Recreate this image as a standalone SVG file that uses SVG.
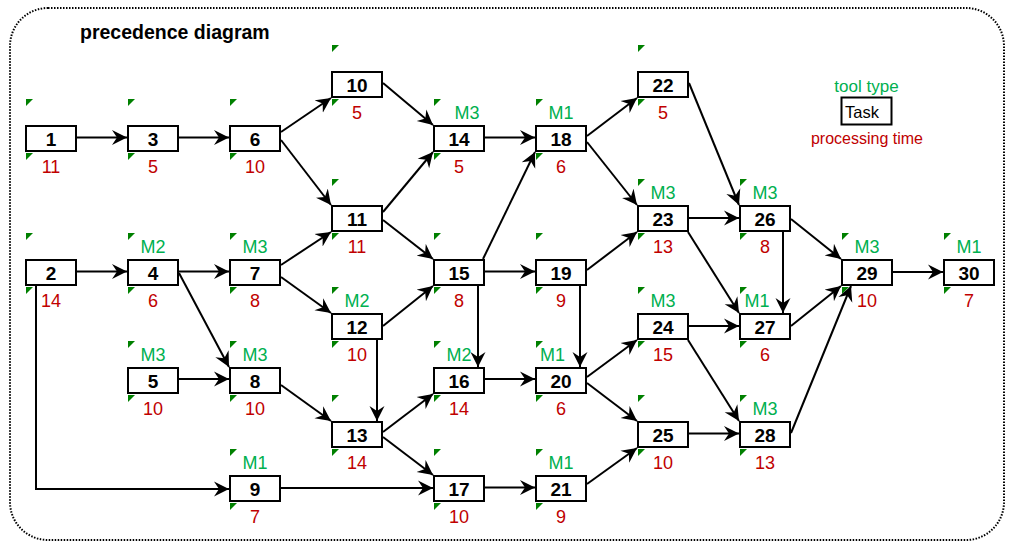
<svg xmlns="http://www.w3.org/2000/svg" width="1015" height="550" viewBox="0 0 1015 550">
  <style>
    text { font-family: "Liberation Sans", Arial, sans-serif; }
    .frame { fill: #fff; stroke: #000; stroke-width: 2; stroke-dasharray: 1.5 1.5; }
    .title { font-size: 19.5px; font-weight: bold; fill: #000; }
    .box { fill: #fff; stroke: #000; stroke-width: 2; }
    .tri { fill: #008000; }
    .num { font-size: 19px; font-weight: bold; fill: #000; text-anchor: middle; }
    .tool { font-size: 18px; fill: #00B050; text-anchor: middle; }
    .time { font-size: 18px; fill: #C00000; text-anchor: middle; }
    .edge { fill: none; stroke: #000; stroke-width: 2; marker-end: url(#arr); }
  </style>
  <defs>
    <marker id="arr" markerUnits="userSpaceOnUse" viewBox="0 0 16 16" markerWidth="16" markerHeight="16" refX="15" refY="8" orient="auto">
      <path d="M0,0.5 L15,8 L0,15.5 L5,8 Z" fill="#000"/>
    </marker>
  </defs>

  <rect class="frame" x="10" y="8" width="994" height="532" rx="38" ry="38"/>
  <text class="title" x="80" y="39">precedence diagram</text>

  <!-- legend -->
  <g id="legend">
    <text class="tool" x="866.5" y="92" style="font-size:17px">tool type</text>
    <rect class="box" x="841.5" y="97.5" width="50" height="27"/>
    <text x="845" y="118" style="font-size:16.5px" fill="#000">Task</text>
    <text class="time" x="867" y="144" style="font-size:16px">processing time</text>
  </g>

  <!-- tasks: box outer extent L..L+52, T..T+27 -->
  <g id="n1"><polygon class="tri" points="26,99 33,99 26,106"/><polygon class="tri" points="26,153 33,153 26,160"/><rect class="box" x="26" y="126" width="50" height="25"/><text class="num" x="51" y="146">1</text><text class="time" x="51" y="173">11</text></g>
  <g id="n2"><polygon class="tri" points="26,233 33,233 26,240"/><polygon class="tri" points="26,287 33,287 26,294"/><rect class="box" x="26" y="260" width="50" height="25"/><text class="num" x="51" y="280">2</text><text class="time" x="51" y="307">14</text></g>
  <g id="n3"><polygon class="tri" points="128,99 135,99 128,106"/><polygon class="tri" points="128,153 135,153 128,160"/><rect class="box" x="128" y="126" width="50" height="25"/><text class="num" x="153" y="146">3</text><text class="time" x="153" y="173">5</text></g>
  <g id="n4"><polygon class="tri" points="128,233 135,233 128,240"/><polygon class="tri" points="128,287 135,287 128,294"/><rect class="box" x="128" y="260" width="50" height="25"/><text class="tool" x="153" y="253">M2</text><text class="num" x="153" y="280">4</text><text class="time" x="153" y="307">6</text></g>
  <g id="n5"><polygon class="tri" points="128,341 135,341 128,348"/><polygon class="tri" points="128,395 135,395 128,402"/><rect class="box" x="128" y="368" width="50" height="25"/><text class="tool" x="153" y="361">M3</text><text class="num" x="153" y="388">5</text><text class="time" x="153" y="415">10</text></g>
  <g id="n6"><polygon class="tri" points="230,99 237,99 230,106"/><polygon class="tri" points="230,153 237,153 230,160"/><rect class="box" x="230" y="126" width="50" height="25"/><text class="num" x="255" y="146">6</text><text class="time" x="255" y="173">10</text></g>
  <g id="n7"><polygon class="tri" points="230,233 237,233 230,240"/><polygon class="tri" points="230,287 237,287 230,294"/><rect class="box" x="230" y="260" width="50" height="25"/><text class="tool" x="255" y="253">M3</text><text class="num" x="255" y="280">7</text><text class="time" x="255" y="307">8</text></g>
  <g id="n8"><polygon class="tri" points="230,341 237,341 230,348"/><polygon class="tri" points="230,395 237,395 230,402"/><rect class="box" x="230" y="368" width="50" height="25"/><text class="tool" x="255" y="361">M3</text><text class="num" x="255" y="388">8</text><text class="time" x="255" y="415">10</text></g>
  <g id="n9"><polygon class="tri" points="230,449 237,449 230,456"/><polygon class="tri" points="230,503 237,503 230,510"/><rect class="box" x="230" y="476" width="50" height="25"/><text class="tool" x="255" y="469">M1</text><text class="num" x="255" y="496">9</text><text class="time" x="255" y="523">7</text></g>
  <g id="n10"><polygon class="tri" points="332,45 339,45 332,52"/><polygon class="tri" points="332,99 339,99 332,106"/><rect class="box" x="332" y="72" width="50" height="25"/><text class="num" x="357" y="92">10</text><text class="time" x="357" y="119">5</text></g>
  <g id="n11"><polygon class="tri" points="332,179 339,179 332,186"/><polygon class="tri" points="332,233 339,233 332,240"/><rect class="box" x="332" y="206" width="50" height="25"/><text class="num" x="357" y="226">11</text><text class="time" x="357" y="253">11</text></g>
  <g id="n12"><polygon class="tri" points="332,287 339,287 332,294"/><polygon class="tri" points="332,341 339,341 332,348"/><rect class="box" x="332" y="314" width="50" height="25"/><text class="tool" x="357" y="307">M2</text><text class="num" x="357" y="334">12</text><text class="time" x="357" y="361">10</text></g>
  <g id="n13"><polygon class="tri" points="332,395 339,395 332,402"/><polygon class="tri" points="332,449 339,449 332,456"/><rect class="box" x="332" y="422" width="50" height="25"/><text class="num" x="357" y="442">13</text><text class="time" x="357" y="469">14</text></g>
  <g id="n14"><polygon class="tri" points="434,99 441,99 434,106"/><polygon class="tri" points="434,153 441,153 434,160"/><rect class="box" x="434" y="126" width="50" height="25"/><text class="tool" x="467" y="119">M3</text><text class="num" x="459" y="146">14</text><text class="time" x="459" y="173">5</text></g>
  <g id="n15"><polygon class="tri" points="434,233 441,233 434,240"/><polygon class="tri" points="434,287 441,287 434,294"/><rect class="box" x="434" y="260" width="50" height="25"/><text class="num" x="459" y="280">15</text><text class="time" x="459" y="307">8</text></g>
  <g id="n16"><polygon class="tri" points="434,341 441,341 434,348"/><polygon class="tri" points="434,395 441,395 434,402"/><rect class="box" x="434" y="368" width="50" height="25"/><text class="tool" x="459" y="361">M2</text><text class="num" x="459" y="388">16</text><text class="time" x="459" y="415">14</text></g>
  <g id="n17"><polygon class="tri" points="434,449 441,449 434,456"/><polygon class="tri" points="434,503 441,503 434,510"/><rect class="box" x="434" y="476" width="50" height="25"/><text class="num" x="459" y="496">17</text><text class="time" x="459" y="523">10</text></g>
  <g id="n18"><polygon class="tri" points="536,99 543,99 536,106"/><polygon class="tri" points="536,153 543,153 536,160"/><rect class="box" x="536" y="126" width="50" height="25"/><text class="tool" x="561" y="119">M1</text><text class="num" x="561" y="146">18</text><text class="time" x="561" y="173">6</text></g>
  <g id="n19"><polygon class="tri" points="536,233 543,233 536,240"/><polygon class="tri" points="536,287 543,287 536,294"/><rect class="box" x="536" y="260" width="50" height="25"/><text class="num" x="561" y="280">19</text><text class="time" x="561" y="307">9</text></g>
  <g id="n20"><polygon class="tri" points="536,341 543,341 536,348"/><polygon class="tri" points="536,395 543,395 536,402"/><rect class="box" x="536" y="368" width="50" height="25"/><text class="tool" x="552.5" y="361">M1</text><text class="num" x="561" y="388">20</text><text class="time" x="561" y="415">6</text></g>
  <g id="n21"><polygon class="tri" points="536,449 543,449 536,456"/><polygon class="tri" points="536,503 543,503 536,510"/><rect class="box" x="536" y="476" width="50" height="25"/><text class="tool" x="561" y="469">M1</text><text class="num" x="561" y="496">21</text><text class="time" x="561" y="523">9</text></g>
  <g id="n22"><polygon class="tri" points="638,45 645,45 638,52"/><polygon class="tri" points="638,99 645,99 638,106"/><rect class="box" x="638" y="72" width="50" height="25"/><text class="num" x="663" y="92">22</text><text class="time" x="663" y="119">5</text></g>
  <g id="n23"><polygon class="tri" points="638,179 645,179 638,186"/><polygon class="tri" points="638,233 645,233 638,240"/><rect class="box" x="638" y="206" width="50" height="25"/><text class="tool" x="663" y="199">M3</text><text class="num" x="663" y="226">23</text><text class="time" x="663" y="253">13</text></g>
  <g id="n24"><polygon class="tri" points="638,287 645,287 638,294"/><polygon class="tri" points="638,341 645,341 638,348"/><rect class="box" x="638" y="314" width="50" height="25"/><text class="tool" x="663" y="307">M3</text><text class="num" x="663" y="334">24</text><text class="time" x="663" y="361">15</text></g>
  <g id="n25"><polygon class="tri" points="638,395 645,395 638,402"/><polygon class="tri" points="638,449 645,449 638,456"/><rect class="box" x="638" y="422" width="50" height="25"/><text class="num" x="663" y="442">25</text><text class="time" x="663" y="469">10</text></g>
  <g id="n26"><polygon class="tri" points="740,179 747,179 740,186"/><polygon class="tri" points="740,233 747,233 740,240"/><rect class="box" x="740" y="206" width="50" height="25"/><text class="tool" x="765" y="199">M3</text><text class="num" x="765" y="226">26</text><text class="time" x="765" y="253">8</text></g>
  <g id="n27"><polygon class="tri" points="740,287 747,287 740,294"/><polygon class="tri" points="740,341 747,341 740,348"/><rect class="box" x="740" y="314" width="50" height="25"/><text class="tool" x="757" y="307">M1</text><text class="num" x="765" y="334">27</text><text class="time" x="765" y="361">6</text></g>
  <g id="n28"><polygon class="tri" points="740,395 747,395 740,402"/><polygon class="tri" points="740,449 747,449 740,456"/><rect class="box" x="740" y="422" width="50" height="25"/><text class="tool" x="765" y="415">M3</text><text class="num" x="765" y="442">28</text><text class="time" x="765" y="469">13</text></g>
  <g id="n29"><polygon class="tri" points="842,233 849,233 842,240"/><polygon class="tri" points="842,287 849,287 842,294"/><rect class="box" x="842" y="260" width="50" height="25"/><text class="tool" x="867" y="253">M3</text><text class="num" x="867" y="280">29</text><text class="time" x="867" y="307">10</text></g>
  <g id="n30"><polygon class="tri" points="944,233 951,233 944,240"/><polygon class="tri" points="944,287 951,287 944,294"/><rect class="box" x="944" y="260" width="50" height="25"/><text class="tool" x="969" y="253">M1</text><text class="num" x="969" y="280">30</text><text class="time" x="969" y="307">7</text></g>

  <!-- precedence arcs -->
  <g id="connectors">
    <path class="edge" d="M77,137.5 L127,137.5"/>
    <path class="edge" d="M179,137.5 L229,137.5"/>
    <path class="edge" d="M281,132 L331,98"/>
    <path class="edge" d="M281,140 L331,205"/>
    <path class="edge" d="M383,83 L433,125"/>
    <path class="edge" d="M383,212 L433,152"/>
    <path class="edge" d="M383,220 L433,259"/>
    <path class="edge" d="M485,137.5 L535,137.5"/>
    <path class="edge" d="M483,259 L535,152"/>
    <path class="edge" d="M485,271.5 L535,271.5"/>
    <path class="edge" d="M478,286 L478,367"/>
    <path class="edge" d="M587,136 L637,98"/>
    <path class="edge" d="M587,142 L637,205"/>
    <path class="edge" d="M689,83 L739,205"/>
    <path class="edge" d="M587,270 L637,232"/>
    <path class="edge" d="M580,286 L580,367"/>
    <path class="edge" d="M689,218 L739,218"/>
    <path class="edge" d="M688,232 L739,313"/>
    <path class="edge" d="M783,232 L783,313"/>
    <path class="edge" d="M791,219 L841,259"/>
    <path class="edge" d="M791,326 L841,286"/>
    <path class="edge" d="M791,433 L851,286"/>
    <path class="edge" d="M689,326 L739,326"/>
    <path class="edge" d="M688,340 L739,421"/>
    <path class="edge" d="M587,377 L637,340"/>
    <path class="edge" d="M587,383 L637,421"/>
    <path class="edge" d="M587,484 L637,448"/>
    <path class="edge" d="M689,433.5 L739,433.5"/>
    <path class="edge" d="M893,272 L943,272"/>
    <path class="edge" d="M77,271.5 L127,271.5"/>
    <path class="edge" d="M179,271.5 L229,271.5"/>
    <path class="edge" d="M179,273 L229,367"/>
    <path class="edge" d="M281,265 L331,232"/>
    <path class="edge" d="M281,277 L331,313"/>
    <path class="edge" d="M383,326 L433,286"/>
    <path class="edge" d="M377,340 L377,421"/>
    <path class="edge" d="M179,379 L229,379"/>
    <path class="edge" d="M281,385 L331,421"/>
    <path class="edge" d="M383,432 L433,394"/>
    <path class="edge" d="M383,437 L433,475"/>
    <path class="edge" d="M485,379 L535,379"/>
    <path class="edge" d="M485,487.5 L535,487.5"/>
    <path class="edge" d="M281,488 L433,488"/>
    <path class="edge" d="M36,286 L36,489 L229,489"/>
  </g>
</svg>
